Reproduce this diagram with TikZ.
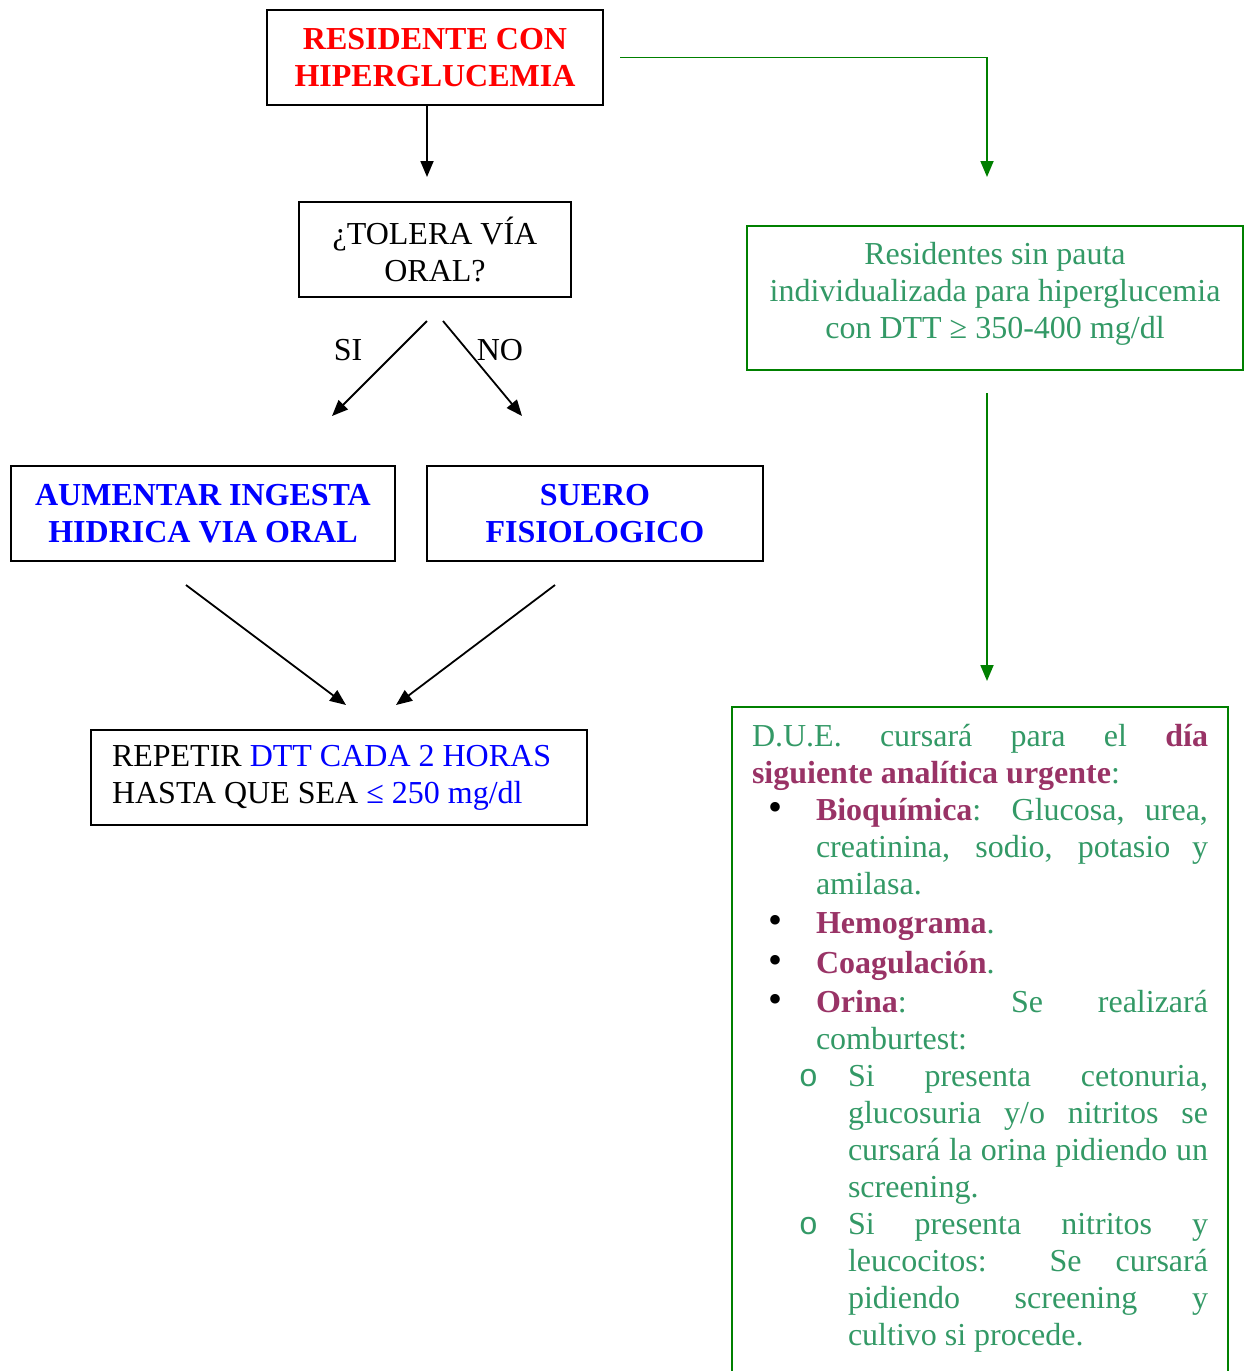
\documentclass[tikz,border=0pt]{standalone}
\usepackage{fontspec}
\setmainfont{Liberation Serif}
\newfontfamily\monof{Liberation Mono}
\usetikzlibrary{arrows.meta}
\definecolor{tg}{RGB}{51,153,102}
\definecolor{bg}{RGB}{0,128,0}
\definecolor{mr}{RGB}{153,51,102}
\definecolor{rd}{RGB}{255,0,0}
\definecolor{bl}{RGB}{0,0,255}
\newcommand\mrb[1]{\textcolor{mr}{\bfseries #1}}
\newcommand\blackbul{\textcolor{black}{\fontsize{40}{37}\selectfont •}}
\newcommand\subbul{{\monof o}}
\begin{document}
\begin{tikzpicture}[x=1pt,y=-1pt,
  every node/.style={font=\fontsize{32}{37}\selectfont},
  bbox/.style={draw=black,line width=2pt,minimum height=95pt,align=center,inner sep=0pt},
  gbox/.style={draw=bg,line width=2pt},
  arr/.style={line width=1.8pt,-{Triangle[length=16pt,width=13pt]}},
  garr/.style={arr,draw=bg,color=bg}]
\useasboundingbox (0,0) rectangle (1247,1371);

% black boxes
\node[bbox,minimum width=336pt,text=rd,font=\fontsize{32}{37}\selectfont\bfseries] (b1) at (435,57.5) {RESIDENTE CON\\HIPERGLUCEMIA};
\node[bbox,minimum width=272pt] (b2) at (435,249.5) {¿TOLERA VÍA\\ORAL?};
\node[bbox,minimum width=384pt,text=bl,font=\fontsize{32}{37}\selectfont\bfseries] (b3) at (203,513.5) {AUMENTAR INGESTA\\HIDRICA VIA ORAL};
\node[bbox,minimum width=336pt,text=bl,font=\fontsize{32}{37}\selectfont\bfseries] (b4) at (595,513.5) {SUERO\\FISIOLOGICO};
\node[bbox,text width=454pt,inner xsep=21pt,align=flush left] (b5) at (339,777.5) {REPETIR \textcolor{bl}{DTT CADA 2 HORAS}\\HASTA QUE SEA \textcolor{bl}{≤ 250 mg/dl}};

% labels
\node (si) at (348,350) {SI};
\node (no) at (500,350) {NO};

% green boxes
\node[gbox,minimum width=496pt,minimum height=144pt,align=center,text=tg,inner sep=0pt] (b6) at (995,298) {Residentes sin pauta\\individualizada para hiperglucemia\\con DTT ≥ 350-400 mg/dl\rule[-16pt]{0pt}{16pt}};

\node[gbox,anchor=north west,text width=456pt,inner xsep=20pt,inner ysep=0pt,align=justify,text=tg] (due) at (731,706) {%
\setlength\parindent{0pt}\setlength\parskip{0pt}\hyphenpenalty=10000 \tolerance=10000
\rule{0pt}{39pt}D.U.E. cursará para el \mrb{día}\linebreak \mrb{siguiente analítica urgente}:\par
\begin{list}{\blackbul}{\setlength\leftmargin{64pt}\setlength\labelwidth{32pt}\setlength\labelsep{34pt}\setlength\itemsep{2.5pt}\setlength\topsep{0pt}\setlength\parsep{0pt}\setlength\partopsep{0pt}\setlength\itemindent{0pt}}
\item \mrb{Bioquímica}: Glucosa, urea,\linebreak creatinina, sodio, potasio y\linebreak amilasa.
\item \mrb{Hemograma}.
\item \mrb{Coagulación}.
\item \mrb{Orina}: Se realizará\linebreak comburtest:
\begin{list}{\subbul}{\setlength\leftmargin{32pt}\setlength\labelwidth{20pt}\setlength\labelsep{30pt}\setlength\itemsep{0pt}\setlength\topsep{0pt}\setlength\parsep{0pt}\setlength\partopsep{0pt}\setlength\itemindent{0pt}}
\item Si presenta cetonuria,\linebreak glucosuria y/o nitritos se\linebreak cursará la orina pidiendo un\linebreak screening.
\item Si presenta nitritos y\linebreak leucocitos: Se cursará\linebreak pidiendo screening y\linebreak cultivo si procede.
\end{list}
\end{list}
\par\vspace*{60pt}};

% coordinates for free connector ends
\coordinate (t1) at (427,177);
\coordinate (g1) at (987,177);
\coordinate (sa) at (427,321);
\coordinate (sb) at (332,416);
\coordinate (na) at (443,321);
\coordinate (nb) at (522,416);
\coordinate (ca) at (186,585);
\coordinate (cb) at (346,705);
\coordinate (da) at (555,585);
\coordinate (db) at (396,705);
\coordinate (ga) at (987,393);
\coordinate (gb) at (987,681);

% connectors
\draw[arr] (b1.south -| t1) -- (t1);
\draw[garr] ([xshift=16pt]b1.east) -| (g1);
\draw[arr] (sa) -- (sb);
\draw[arr] (na) -- (nb);
\draw[arr] (ca) -- (cb);
\draw[arr] (da) -- (db);
\draw[garr] (ga) -- (gb);
\end{tikzpicture}
\end{document}
